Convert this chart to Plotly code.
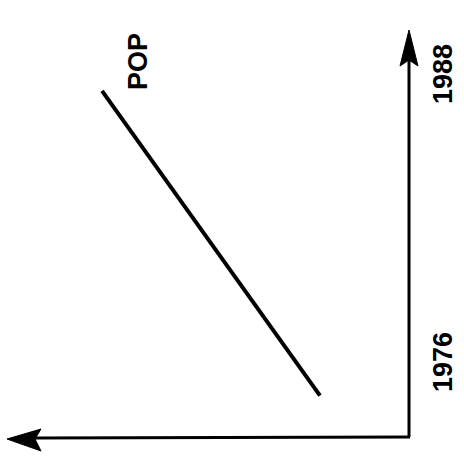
import plotly.graph_objects as go

# ---- data ----
years = [1974.6, 1987.3]          # time axis (vertical, upward)
pop = [10, 20]                    # population (horizontal, increasing to the left)
tick_years = [1976, 1988]
tick_labels = ["1976", "1988"]
series_name = "POP"

W, H = 464, 460
FONT = dict(family="Liberation Sans, Arial, sans-serif", size=27, color="black")


def P(px, py):
    return px / W, 1 - py / H


def path(points, close=False):
    s = ""
    for i, (px, py) in enumerate(points):
        x, y = P(px, py)
        s += ("M" if i == 0 else "L") + f"{x:.5f},{y:.5f} "
    return s + ("Z" if close else "")


fig = go.Figure()
fig.add_trace(go.Scatter(x=pop, y=years, mode="lines",
                         line=dict(color="black", width=4), hoverinfo="skip",
                         showlegend=False))

shapes = [
    # vertical (time) axis
    dict(type="path", xref="paper", yref="paper",
         path=path([(409, 437), (409, 58)]), line=dict(color="black", width=3)),
    dict(type="path", xref="paper", yref="paper",
         path=path([(409, 30), (400, 66), (409, 60), (418, 66)], close=True),
         fillcolor="black", line=dict(color="black", width=1)),
    # horizontal (pop) axis
    dict(type="path", xref="paper", yref="paper",
         path=path([(410, 437), (35, 438)]), line=dict(color="black", width=3)),
    dict(type="path", xref="paper", yref="paper",
         path=path([(7, 439), (41, 429), (35, 439), (41, 451)], close=True),
         fillcolor="black", line=dict(color="black", width=1)),
]

annotations = []
for yv, lab in zip(tick_years, tick_labels):
    annotations.append(dict(x=443 / W, xref="paper", y=yv, yref="y", text=f"<b>{lab}</b>",
                            textangle=-90, showarrow=False, font=FONT,
                            xanchor="center", yanchor="middle"))
px_, py_ = P(138, 62)
annotations.append(dict(x=px_, xref="paper", y=py_, yref="paper", text=f"<b>{series_name}</b>",
                        textangle=-90, showarrow=False, font=FONT,
                        xanchor="center", yanchor="middle"))

fig.update_layout(
    width=W, height=H,
    margin=dict(l=0, r=0, t=0, b=0),
    paper_bgcolor="white", plot_bgcolor="white",
    xaxis=dict(range=[24.68, 3.394], visible=False, fixedrange=True),
    yaxis=dict(range=[1971.917, 1991.083], visible=False, fixedrange=True),
    shapes=shapes, annotations=annotations,
    showlegend=False,
)

fig.write_html("out.html", config=dict(displayModeBar=False),
               post_script="document.body.style.margin='0';document.body.style.overflow='hidden';")
